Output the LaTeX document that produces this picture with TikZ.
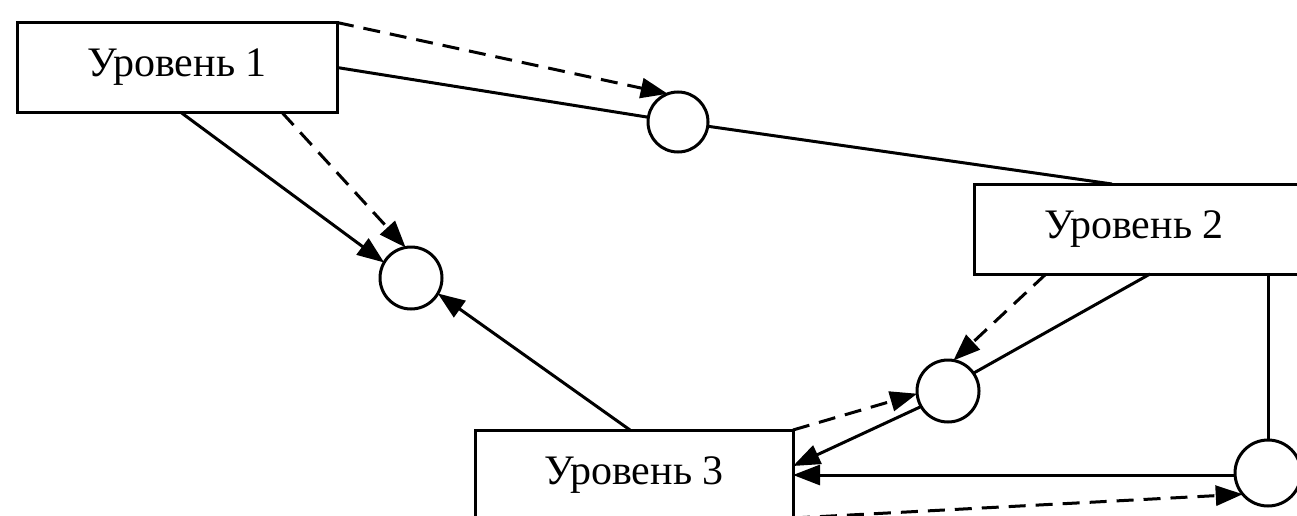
\documentclass[tikz,border=0pt]{standalone}
\usepackage{fontspec}
\setmainfont{Liberation Serif}
\usetikzlibrary{arrows.meta,calc}
\begin{document}
\begin{tikzpicture}[x=1pt,y=-1pt,
  lbl/.style={font=\fontsize{42}{44}\selectfont},
  box/.style={draw,line width=3pt,minimum height=90pt,inner sep=0pt,outer sep=0pt,lbl},
  ring/.style={draw,circle,line width=3pt,inner sep=0pt,outer sep=0pt},
  con/.style={line width=3pt},
  dsh/.style={con,dash pattern=on 17pt off 10pt},
  arr/.style={-{Triangle[length=27pt,width=20pt]}}]
\useasboundingbox (0,0) rectangle (1297,516);
\clip (0,0) rectangle (1297,516);
% boxes
\node[box,minimum width=320pt] (b1) at (177,67.5) {Уровень 1};
\node[box,minimum width=440pt] (b2) at (1194,229) {};
\node[lbl] (t2) at (1134,229) {Уровень 2};
\node[box,minimum width=318pt] (b3) at (634,475) {Уровень 3};
% circles
\node[ring,minimum size=60pt] (A) at (678,122) {};
\node[ring,minimum size=62pt] (B) at (411,278) {};
\node[ring,minimum size=62pt] (C) at (948,391) {};
\node[ring,minimum size=66pt] (D) at (1268,473) {};
% coordinates
\coordinate (b2top) at ($(b2.north west)+(138,0)$);
\coordinate (b1s1) at ($(b1.south west)+(164,0)$);
\coordinate (b1s2) at ($(b1.south west)+(265,0)$);
\coordinate (b3n) at ($(b3.north west)+(155,0)$);
\coordinate (b2s1) at ($(b2.south west)+(72,0)$);
\coordinate (b2s2) at ($(b2.south west)+(176,0)$);
\coordinate (b2s3) at ($(b2.south west)+(294,0)$);
\coordinate (b3e1) at ($(b3.north east)+(0,36)$);
\coordinate (b3e2) at ($(b3.south east)+(0,-2)$);
% connectors
\draw[con] (b1.east) -- (A);
\draw[con] (A) -- (b2top);
\draw[dsh,arr] (b1.north east) -- (A.110);
\draw[con,arr] (b1s1) -- (B.150);
\draw[dsh,arr] (b1s2) -- (B.100);
\draw[con,arr] (b3n) -- (B.-30);
\draw[dsh,arr] (b2s1) -- (C.80);
\draw[con] (b2s2) -- (C.35);
\draw[dsh,arr] (b3.north east) -- (C.185);
\draw[con,arr] (C.210) -- (b3e1);
\draw[con] (b2s3) -- (D.north);
\draw[con,arr] (D.west |- b3.east) -- (b3.east);
\draw[dsh,arr] (b3e2) -- (D.220);
\end{tikzpicture}
\end{document}
